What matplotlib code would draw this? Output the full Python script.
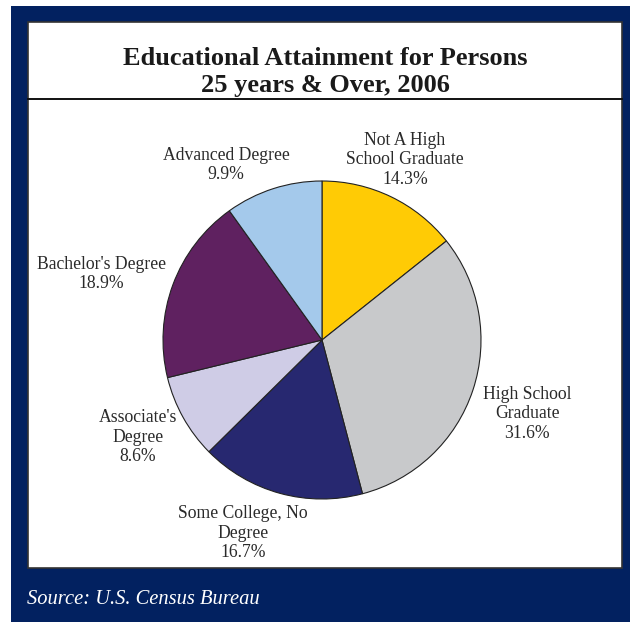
import matplotlib
matplotlib.use("Agg")
import matplotlib.pyplot as plt
from matplotlib.patches import Rectangle
from matplotlib.lines import Line2D

# ---- data ----
categories = ["Not A High\nSchool Graduate", "High School\nGraduate", "Some College, No\nDegree",
              "Associate's\nDegree", "Bachelor's Degree", "Advanced Degree"]
values = [14.3, 31.6, 16.7, 8.6, 18.9, 9.9]
colors = ["#FFCB05", "#C8C9CB", "#272870", "#CFCCE6", "#5F2160", "#A4C9EB"]
title = "Educational Attainment for Persons\n25 years & Over, 2006"
source = "Source: U.S. Census Bureau"

# label anchor positions in figure pixels (layout only)
label_pos = [(405, 160), (527, 414), (243, 533), (138, 437), (101, 274), (226, 165)]

W, H = 630, 622
fig = plt.figure(figsize=(W / 100, H / 100), dpi=100)
fig.patch.set_facecolor("white")
FONT = "Liberation Serif"

def fx(x):
    return x / W

def fy(y):
    return 1 - y / H

# navy frame
fig.patches.append(Rectangle((fx(11), fy(622)), fx(630) - fx(11), fy(6) - fy(622),
                             transform=fig.transFigure, facecolor="#022160", edgecolor="none", zorder=0))
# white panel
fig.patches.append(Rectangle((fx(28), fy(568)), fx(622) - fx(28), fy(22) - fy(568),
                             transform=fig.transFigure, facecolor="white", edgecolor="#333333",
                             linewidth=1.2, zorder=1))
# title divider line
fig.lines.append(Line2D([fx(28), fx(622)], [fy(99), fy(99)], transform=fig.transFigure,
                        color="#111111", linewidth=1.4, zorder=2))

fig.text(fx(325), fy(72), title, ha="center", va="center", fontsize=19, fontweight="bold",
         family=FONT, color="#1a1a1a", linespacing=1.25, zorder=5)

fig.text(fx(27), fy(600), source, ha="left", va="center", fontsize=14.8, style="italic",
         family=FONT, color="white", zorder=5)

# pie
cx, cy, r = 322, 340, 159
ax = fig.add_axes([fx(cx - r), fy(cy + r), (2 * r) / W, (2 * r) / H])
ax.set_zorder(4)
ax.patch.set_visible(False)
ax.pie(values, colors=colors, startangle=90, counterclock=False,
       wedgeprops=dict(edgecolor="#222222", linewidth=0.8))
ax.set_xlim(-1, 1)
ax.set_ylim(-1, 1)
ax.set_aspect("equal")
ax.axis("off")

for cat, val, (px, py) in zip(categories, values, label_pos):
    fig.text(fx(px), fy(py), f"{cat}\n{val:.1f}%", ha="center", va="center", fontsize=12.7,
             family=FONT, color="#2a2a2a", linespacing=1.2, zorder=5)

fig.savefig("out.png", dpi=100)
